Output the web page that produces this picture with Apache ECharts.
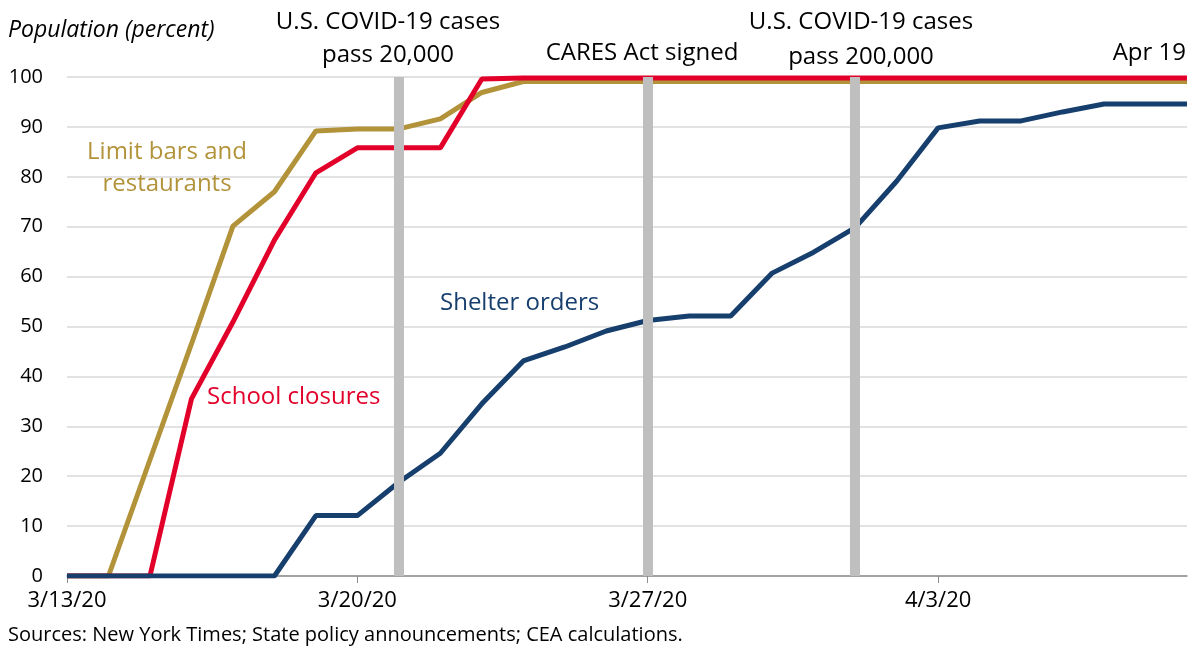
<!DOCTYPE html>
<html lang="en">
<head>
    <meta charset="UTF-8">
    <title>Population under policies</title>
    <style>
        html, body { margin: 0; padding: 0; background: #fff; }
    </style>
</head>
<body>
<div id="container" style="width:1193px;height:648px"></div>
<script type="text/javascript" src="https://cdn.jsdelivr.net/npm/echarts@6/dist/echarts.min.js"></script>
<script type="text/javascript">
    // days from 3/13/20 to 4/9/20
    var dates = ['3/13/20', '3/14/20', '3/15/20', '3/16/20', '3/17/20', '3/18/20', '3/19/20',
        '3/20/20', '3/21/20', '3/22/20', '3/23/20', '3/24/20', '3/25/20', '3/26/20',
        '3/27/20', '3/28/20', '3/29/20', '3/30/20', '3/31/20', '4/1/20', '4/2/20',
        '4/3/20', '4/4/20', '4/5/20', '4/6/20', '4/7/20', '4/8/20', '4/9/20'];

    var barsRestaurants = [0, 0, 23.3, 46.5, 70.1, 77.0, 89.2, 89.6, 89.6, 91.6, 96.9, 99.1,
        99.1, 99.1, 99.1, 99.1, 99.1, 99.1, 99.1, 99.1, 99.1, 99.1, 99.1, 99.1, 99.1, 99.1, 99.1, 99.1];

    var schoolClosures = [0, 0, 0, 35.5, 50.9, 67.3, 80.8, 85.8, 85.8, 85.8, 99.6, 99.8,
        99.8, 99.8, 99.8, 99.8, 99.8, 99.8, 99.8, 99.8, 99.8, 99.8, 99.8, 99.8, 99.8, 99.8, 99.8, 99.8];

    var shelterOrders = [0, 0, 0, 0, 0, 0, 12.1, 12.1, 18.8, 24.6, 34.5, 43.1, 45.9, 49.1,
        51.2, 52.1, 52.1, 60.7, 64.9, 69.8, 79.1, 89.8, 91.2, 91.2, 93.0, 94.6, 94.6, 94.6];

    // event markers
    var eventDates = ['3/21/20', '3/27/20', '4/1/20'];

    var gold = '#B2933A';
    var red = '#E2002A';
    var navy = '#173F6E';
    var font = 'Open Sans';

    var dom = document.getElementById('container');
    var myChart = echarts.init(dom, null, { renderer: 'canvas' });

    function note(x, y, text, size, color, align, lh) {
        return {
            type: 'text', x: x, y: y, z: 10,
            style: {
                text: text, fontSize: size, fontFamily: font, fill: color || '#000',
                align: align || 'center', verticalAlign: 'middle', lineHeight: lh || size * 1.3
            }
        };
    }

    var option = {
        animation: false,
        grid: { left: 67, right: 6, top: 77, bottom: 72, containLabel: false },
        xAxis: {
            type: 'category',
            data: dates,
            boundaryGap: false,
            axisLine: { lineStyle: { color: '#8C8C8C', width: 1.5 } },
            axisTick: { interval: 6, length: 7, lineStyle: { color: '#8C8C8C' } },
            axisLabel: {
                interval: 6, color: '#000', fontSize: 22, fontFamily: font, margin: 14
            },
            splitLine: { show: false }
        },
        yAxis: {
            type: 'value',
            min: 0, max: 100, interval: 10,
            axisLine: { show: false },
            axisTick: { show: false },
            axisLabel: { color: '#000', fontSize: 20, fontFamily: font, margin: 24 },
            splitLine: { lineStyle: { color: '#D9D9D9', width: 1.5 } }
        },
        series: [
            {
                type: 'line', data: [], z: 1, silent: true,
                markLine: {
                    symbol: 'none', silent: true, animation: false,
                    label: { show: false },
                    lineStyle: { color: '#BFBFBF', width: 10, type: 'solid' },
                    data: eventDates.map(function (d) { return { xAxis: d }; })
                }
            },
            {
                name: 'Limit bars and restaurants', type: 'line', data: barsRestaurants, z: 2,
                showSymbol: false, lineStyle: { color: gold, width: 5 }, itemStyle: { color: gold }
            },
            {
                name: 'School closures', type: 'line', data: schoolClosures, z: 3,
                showSymbol: false, lineStyle: { color: red, width: 5 }, itemStyle: { color: red }
            },
            {
                name: 'Shelter orders', type: 'line', data: shelterOrders, z: 4,
                showSymbol: false, lineStyle: { color: navy, width: 5 }, itemStyle: { color: navy }
            }
        ],
        graphic: [
            {
                type: 'text', x: 8, y: 30, z: 10,
                style: { text: 'Population (percent)', fontSize: 23, fontStyle: 'italic', fontFamily: font, fill: '#000', verticalAlign: 'middle' }
            },
            note(388, 39, 'U.S. COVID-19 cases\npass 20,000', 24, '#000', 'center', 33),
            note(642, 53, 'CARES Act signed', 24),
            note(861, 40, 'U.S. COVID-19 cases\npass 200,000', 24, '#000', 'center', 35),
            note(1186, 53, 'Apr 19', 24, '#000', 'right'),
            note(167, 168, 'Limit bars and\nrestaurants', 24, gold, 'center', 32),
            note(207, 397, 'School closures', 24, red, 'left'),
            note(440, 303, 'Shelter orders', 24, navy, 'left'),
            {
                type: 'text', x: 8, y: 635, z: 10,
                style: { text: 'Sources: New York Times; State policy announcements; CEA calculations.', fontSize: 20, fontFamily: font, fill: '#000', verticalAlign: 'middle' }
            }
        ]
    };

    myChart.setOption(option);
    window.addEventListener('resize', myChart.resize);
</script>
</body>
</html>
